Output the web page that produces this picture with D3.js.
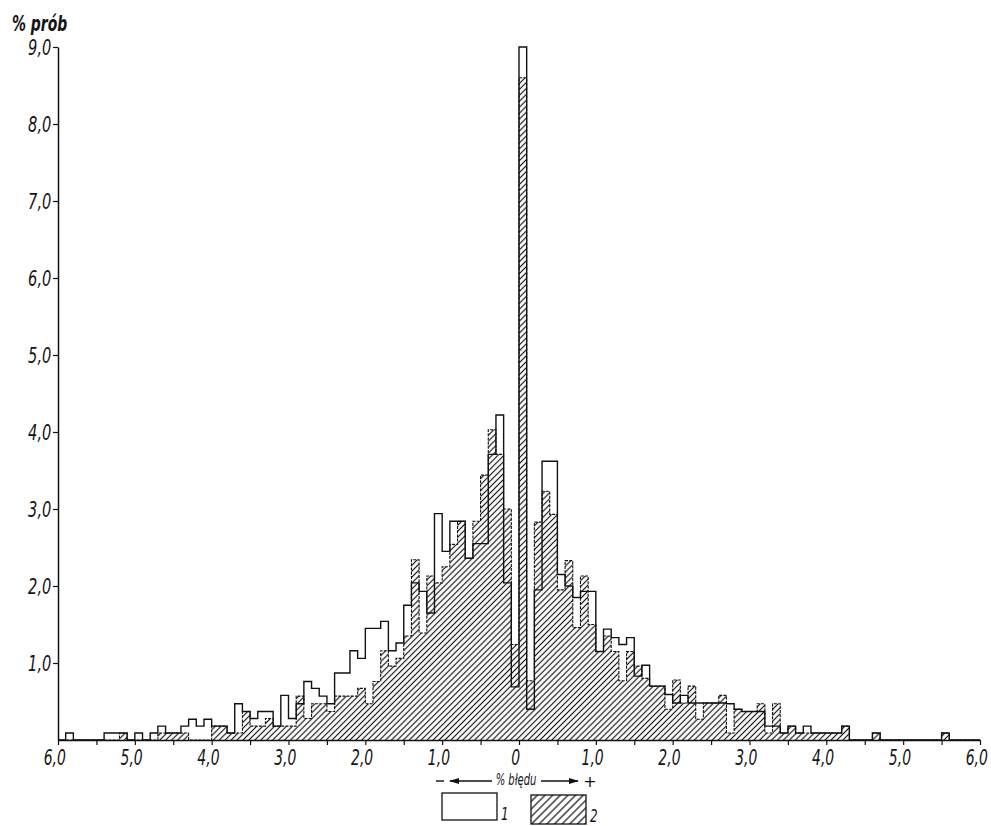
<!DOCTYPE html>
<html lang="pl">
<head>
<meta charset="utf-8">
<title>% prób / % błędu</title>
<script src="https://cdn.jsdelivr.net/npm/d3@7/dist/d3.min.js"></script>
<style>
  html, body { margin: 0; padding: 0; background: #fff; }
  svg { display: block; }
  .lbl {
    font-family: "Liberation Sans Narrow", "DejaVu Sans Condensed", "DejaVu Sans", sans-serif;
    font-style: italic;
    fill: #151515;
  }
</style>
</head>
<body>
<svg class="chart" width="991" height="826"></svg>
<script>
// bins of 0.1 % from -6,0 to +6,0
const binLeft = -6.0;
const binWidth = 0.1;

// series 1 (white bars), % prób per bin
const proba1 = [
  0, 0.09, 0, 0, 0, 0, 0.09, 0.09, 0.09, 0,
  0.09, 0, 0.09, 0.18, 0.09, 0.09, 0.18, 0.27, 0.18, 0.27,
  0.18, 0.18, 0.09, 0.47, 0.37, 0.28, 0.37, 0.37, 0.18, 0.58,
  0.28, 0.47, 0.76, 0.67, 0.57, 0.47, 0.87, 0.87, 1.16, 1.06,
  1.45, 1.45, 1.54, 1.16, 1.26, 1.75, 2.04, 1.93, 1.65, 2.94,
  2.45, 2.84, 2.84, 2.36, 2.55, 2.55, 3.71, 4.22, 2.04, 0.69,
  9.00, 0.40, 1.95, 3.62, 3.62, 2.15, 2.00, 1.85, 1.93, 1.93,
  1.15, 1.44, 1.33, 1.24, 1.33, 0.83, 0.97, 0.70, 0.70, 0.59,
  0.48, 0.58, 0.48, 0.48, 0.48, 0.48, 0.48, 0.47, 0.40, 0.37,
  0.37, 0.37, 0.18, 0.18, 0.09, 0.18, 0.09, 0.18, 0.09, 0.09,
  0.09, 0.09, 0.18, 0, 0, 0, 0.09, 0, 0, 0,
  0, 0, 0, 0, 0, 0.09, 0, 0, 0, 0
];

// series 2 (hatched bars)
const proba2 = [
  0, 0, 0, 0, 0, 0, 0, 0, 0.09, 0,
  0, 0, 0, 0.09, 0.09, 0.09, 0.09, 0, 0, 0,
  0.18, 0.18, 0.09, 0.09, 0.37, 0.18, 0.18, 0.28, 0.18, 0.18,
  0.18, 0.57, 0.28, 0.47, 0.47, 0.37, 0.57, 0.57, 0.57, 0.67,
  0.47, 0.76, 1.16, 0.96, 1.06, 1.35, 2.34, 1.39, 2.13, 2.04,
  2.25, 2.54, 2.84, 2.36, 2.84, 3.44, 4.03, 3.71, 3.00, 1.24,
  8.60, 0.77, 2.83, 3.23, 2.93, 1.95, 2.33, 1.46, 2.13, 1.50,
  1.15, 1.35, 1.15, 0.77, 1.15, 0.96, 0.80, 0.70, 0.70, 0.40,
  0.78, 0.48, 0.70, 0.27, 0.48, 0.48, 0.58, 0.09, 0.40, 0.37,
  0.37, 0.47, 0.09, 0.47, 0.09, 0.18, 0.09, 0.09, 0.09, 0.09,
  0.09, 0.09, 0.18, 0, 0, 0, 0.09, 0, 0, 0,
  0, 0, 0, 0, 0, 0.09, 0, 0, 0, 0
];

const xTicks = [-6, -5, -4, -3, -2, -1, 0, 1, 2, 3, 4, 5, 6];
const xTickLabels = ['6,0', '5,0', '4,0', '3,0', '2,0', '1,0', '0', '1,0', '2,0', '3,0', '4,0', '5,0', '6,0'];
const xMinorTicks = [-5.5, -4.5, -3.5, -2.5, -1.5, -0.5, 0.5, 1.5, 2.5, 3.5, 4.5, 5.5];
const yTicks = [1, 2, 3, 4, 5, 6, 7, 8, 9];
const yTickLabels = ['1,0', '2,0', '3,0', '4,0', '5,0', '6,0', '7,0', '8,0', '9,0'];

const svg = d3.select('svg.chart');

const x = d3.scaleLinear().domain([-6, 6]).range([58, 980]);
const y = d3.scaleLinear().domain([0, 9]).range([740, 47]);

// narrow print-like labels
const squeeze = 'scale(0.74,1)';

// hatch patterns
const defs = svg.append('defs');
function addHatch(id, size, width) {
  defs.append('pattern')
    .attr('id', id)
    .attr('patternUnits', 'userSpaceOnUse')
    .attr('width', size)
    .attr('height', size)
    .attr('patternTransform', 'rotate(45)')
    .append('line')
    .attr('x1', size / 2).attr('y1', 0)
    .attr('x2', size / 2).attr('y2', size)
    .attr('stroke', '#111')
    .attr('stroke-width', width);
}
addHatch('hatch', 4.2, 1.15);
addHatch('hatch-legend', 5.4, 1.2);

// points for a step outline: left edge of every bin + the right end
function stepPoints(values) {
  const pts = values.map((v, i) => ({ x: binLeft + i * binWidth, v: v }));
  pts.push({ x: binLeft + values.length * binWidth, v: values[values.length - 1] });
  return pts;
}

const area = d3.area()
  .x(d => x(d.x))
  .y0(y(0))
  .y1(d => y(d.v))
  .curve(d3.curveStepAfter);

const line = d3.line()
  .x(d => x(d.x))
  .y(d => y(d.v))
  .curve(d3.curveStepAfter);

const pts1 = stepPoints(proba1);
const pts2 = stepPoints(proba2);

// hatched series first, then both outlines
svg.append('path')
  .attr('d', area(pts2))
  .attr('fill', 'url(#hatch)')
  .attr('stroke', 'none');

svg.append('path')
  .attr('d', line(pts2))
  .attr('fill', 'none')
  .attr('stroke', '#111')
  .attr('stroke-width', 1.1)
  .attr('stroke-dasharray', '3,1.2');

svg.append('path')
  .attr('d', line(pts1))
  .attr('fill', 'none')
  .attr('stroke', '#111')
  .attr('stroke-width', 1.4);

// x axis
const xAxis = svg.append('g')
  .attr('transform', `translate(0,${y(0)})`)
  .call(d3.axisBottom(x)
    .tickValues(xTicks)
    .tickSize(5)
    .tickSizeOuter(0)
    .tickFormat((d, i) => xTickLabels[i]));

svg.append('g')
  .attr('transform', `translate(0,${y(0)})`)
  .call(d3.axisBottom(x)
    .tickValues(xMinorTicks)
    .tickSize(5)
    .tickSizeOuter(0)
    .tickFormat(''))
  .select('.domain').remove();

xAxis.selectAll('text')
  .attr('class', 'lbl')
  .attr('font-size', 21)
  .attr('y', 10)
  .attr('dx', -5)
  .attr('dy', '0.71em')
  .attr('transform', squeeze);

// y axis
const yAxis = svg.append('g')
  .attr('transform', `translate(${x(-6)},0)`)
  .call(d3.axisLeft(y)
    .tickValues(yTicks)
    .tickSize(5)
    .tickSizeOuter(0)
    .tickFormat((d, i) => yTickLabels[i]));

yAxis.selectAll('text')
  .attr('class', 'lbl')
  .attr('font-size', 22)
  .attr('x', -9)
  .attr('dy', '0.36em')
  .attr('transform', squeeze);

svg.selectAll('.domain, .tick line')
  .attr('stroke', '#111')
  .attr('stroke-width', 1.5);

svg.selectAll('.tick line').attr('stroke-width', 1.2);

// y title
svg.append('text')
  .attr('class', 'lbl')
  .attr('transform', 'translate(12,31) ' + squeeze)
  .attr('font-size', 21)
  .attr('font-weight', 'bold')
  .text('% prób');

// x title with arrows
const arrowY = 781;
defs.append('marker')
  .attr('id', 'arrow-head')
  .attr('viewBox', '0 0 10 6')
  .attr('refX', 9)
  .attr('refY', 3)
  .attr('markerWidth', 12)
  .attr('markerHeight', 6)
  .attr('markerUnits', 'userSpaceOnUse')
  .attr('orient', 'auto-start-reverse')
  .append('path')
  .attr('d', 'M0,0 L10,3 L0,6 Z')
  .attr('fill', '#111');

svg.append('line')
  .attr('x1', 436).attr('x2', 444)
  .attr('y1', arrowY).attr('y2', arrowY)
  .attr('stroke', '#111').attr('stroke-width', 1.4);

svg.append('line')
  .attr('x1', 450).attr('x2', 492)
  .attr('y1', arrowY).attr('y2', arrowY)
  .attr('stroke', '#111').attr('stroke-width', 1.3)
  .attr('marker-start', 'url(#arrow-head)');

svg.append('text')
  .attr('class', 'lbl')
  .attr('transform', `translate(516,${arrowY + 4}) ` + squeeze)
  .attr('text-anchor', 'middle')
  .attr('font-size', 15)
  .text('% błędu');

svg.append('line')
  .attr('x1', 541).attr('x2', 578)
  .attr('y1', arrowY).attr('y2', arrowY)
  .attr('stroke', '#111').attr('stroke-width', 1.3)
  .attr('marker-end', 'url(#arrow-head)');

svg.append('text')
  .attr('x', 590)
  .attr('y', arrowY + 6)
  .attr('text-anchor', 'middle')
  .attr('font-family', 'DejaVu Sans, sans-serif')
  .attr('font-size', 16)
  .attr('fill', '#111')
  .text('+');

// legend
svg.append('rect')
  .attr('x', 442).attr('y', 793)
  .attr('width', 55).attr('height', 27)
  .attr('fill', '#fff')
  .attr('stroke', '#111').attr('stroke-width', 1.3);

svg.append('text')
  .attr('class', 'lbl')
  .attr('transform', 'translate(501,820) ' + squeeze)
  .attr('font-size', 18)
  .text('1');

svg.append('rect')
  .attr('x', 531).attr('y', 795)
  .attr('width', 55).attr('height', 29)
  .attr('fill', 'url(#hatch-legend)')
  .attr('stroke', '#111').attr('stroke-width', 1.3);

svg.append('text')
  .attr('class', 'lbl')
  .attr('transform', 'translate(590,822) ' + squeeze)
  .attr('font-size', 18)
  .text('2');
</script>
</body>
</html>
